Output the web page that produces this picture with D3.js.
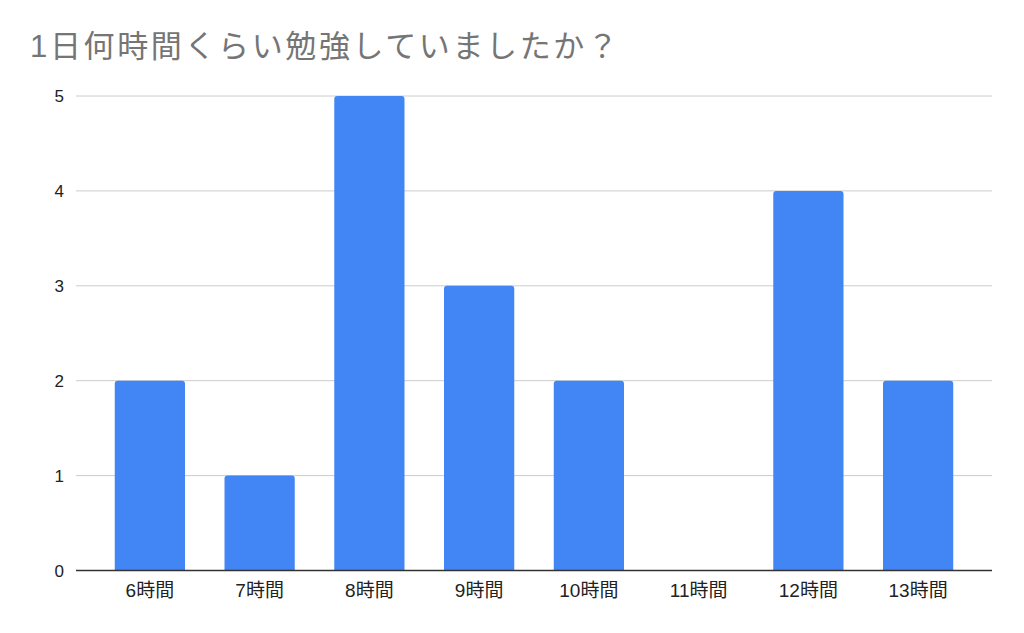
<!DOCTYPE html>
<html>
<head>
<meta charset="utf-8">
<script src="https://cdn.jsdelivr.net/npm/d3@7"></script>
<style>
  body { margin: 0; background: #fff; }
  text { font-family: "Liberation Sans", Arial, "Noto Sans CJK JP", sans-serif; }
</style>
</head>
<body>
<div class="chart"></div>
<script>
// data
var categories = ['6時間', '7時間', '8時間', '9時間', '10時間', '11時間', '12時間', '13時間'];
var counts = [2, 1, 5, 3, 2, 0, 4, 2];
var yTicks = [0, 1, 2, 3, 4, 5];
var title = '1日何時間くらい勉強していましたか？';

var width = 1024, height = 633;
var plot = { left: 76, right: 992, top: 96, bottom: 570.5 };

var svg = d3.select('.chart')
  .append('svg')
    .attr('width', width)
    .attr('height', height);

svg.append('text')
  .attr('x', 30)
  .attr('y', 57)
  .attr('textLength', 588)
  .attr('lengthAdjust', 'spacing')
  .style('font-size', '31px')
  .style('fill', '#757575')
  .text(title);

var xScale = d3.scaleBand()
  .domain(categories)
  .range([95, 973])
  .paddingInner(0.36)
  .paddingOuter(0.18);

var yScale = d3.scaleLinear()
  .domain([0, 5])
  .range([plot.bottom, plot.top]);

// gridlines
svg.append('g')
  .selectAll('line')
  .data(yTicks.filter(d => d > 0))
  .enter()
  .append('line')
    .attr('x1', plot.left)
    .attr('x2', plot.right)
    .attr('y1', d => yScale(d))
    .attr('y2', d => yScale(d))
    .style('stroke', '#cccccc')
    .style('stroke-width', 1);

// y labels
svg.append('g')
  .selectAll('text')
  .data(yTicks)
  .enter()
  .append('text')
    .attr('x', 64)
    .attr('y', d => yScale(d))
    .attr('dy', '0.36em')
    .attr('text-anchor', 'end')
    .style('font-size', '17px')
    .style('fill', '#222')
    .text(d => d);

// bars, rounded top only
function barPath(x, y, w, h, r) {
  if (h <= 0) return '';
  r = Math.min(r, h);
  return 'M' + x + ',' + (y + h) +
    'V' + (y + r) + 'Q' + x + ',' + y + ' ' + (x + r) + ',' + y +
    'H' + (x + w - r) + 'Q' + (x + w) + ',' + y + ' ' + (x + w) + ',' + (y + r) +
    'V' + (y + h) + 'Z';
}

svg.append('g')
  .selectAll('path')
  .data(counts)
  .enter()
  .append('path')
    .attr('d', (d, i) => barPath(xScale(categories[i]), yScale(d), xScale.bandwidth(), yScale(0) - yScale(d), 3))
    .style('fill', '#4285f4');

// baseline
svg.append('line')
  .attr('x1', plot.left)
  .attr('x2', plot.right)
  .attr('y1', yScale(0))
  .attr('y2', yScale(0))
  .style('stroke', '#333')
  .style('stroke-width', 1.3);

// x labels
svg.append('g')
  .selectAll('text')
  .data(categories)
  .enter()
  .append('text')
    .attr('x', d => xScale(d) + xScale.bandwidth() / 2)
    .attr('y', 597)
    .attr('text-anchor', 'middle')
    .style('font-size', '19px')
    .style('fill', '#222')
    .text(d => d);
</script>
</body>
</html>
